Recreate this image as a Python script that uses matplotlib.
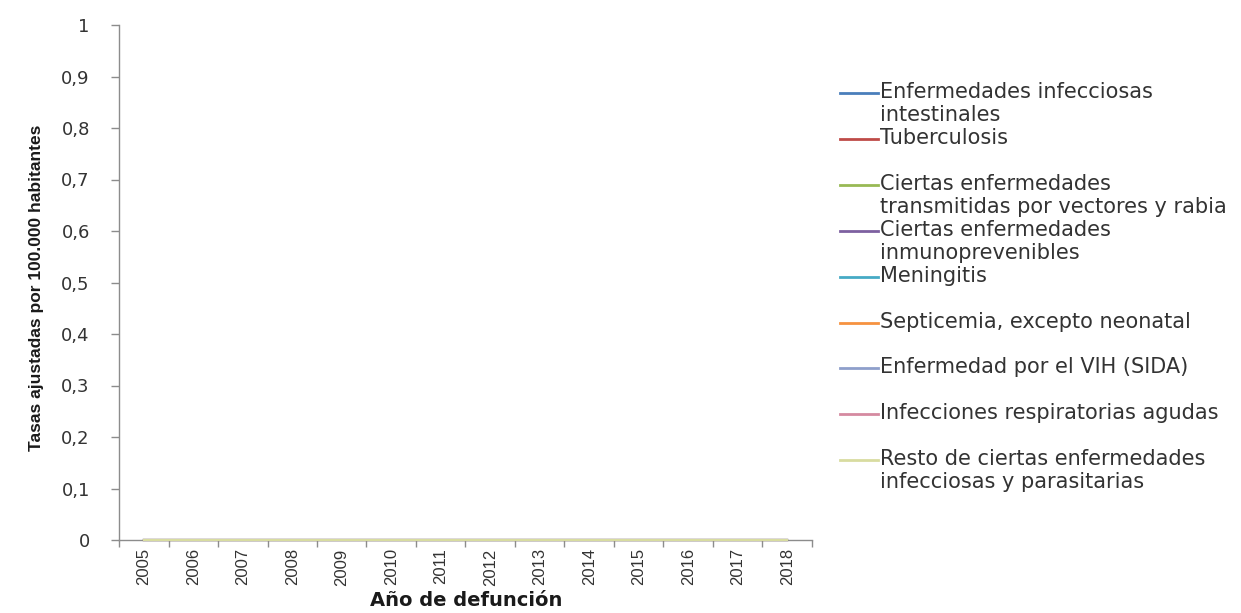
import matplotlib
matplotlib.use("Agg")
import numpy as np
import matplotlib.pyplot as plt
from matplotlib.lines import Line2D

# Años de defunción (eje x)
years = [2005, 2006, 2007, 2008, 2009, 2010, 2011, 2012, 2013, 2014, 2015, 2016, 2017, 2018]

# Tasas ajustadas por 100.000 habitantes (todas en cero en el gráfico)
intestinales = [0, 0, 0, 0, 0, 0, 0, 0, 0, 0, 0, 0, 0, 0]
tuberculosis = [0, 0, 0, 0, 0, 0, 0, 0, 0, 0, 0, 0, 0, 0]
vectores = [0, 0, 0, 0, 0, 0, 0, 0, 0, 0, 0, 0, 0, 0]
inmunoprevenibles = [0, 0, 0, 0, 0, 0, 0, 0, 0, 0, 0, 0, 0, 0]
meningitis = [0, 0, 0, 0, 0, 0, 0, 0, 0, 0, 0, 0, 0, 0]
septicemia = [0, 0, 0, 0, 0, 0, 0, 0, 0, 0, 0, 0, 0, 0]
vih = [0, 0, 0, 0, 0, 0, 0, 0, 0, 0, 0, 0, 0, 0]
respiratorias = [0, 0, 0, 0, 0, 0, 0, 0, 0, 0, 0, 0, 0, 0]
resto = [0, 0, 0, 0, 0, 0, 0, 0, 0, 0, 0, 0, 0, 0]

series_labels = [
    "Enfermedades infecciosas\nintestinales",
    "Tuberculosis",
    "Ciertas enfermedades\ntransmitidas por vectores y rabia",
    "Ciertas enfermedades\ninmunoprevenibles",
    "Meningitis",
    "Septicemia, excepto neonatal",
    "Enfermedad por el VIH (SIDA)",
    "Infecciones respiratorias agudas",
    "Resto de ciertas enfermedades\ninfecciosas y parasitarias",
]
series_values = [intestinales, tuberculosis, vectores, inmunoprevenibles,
                 meningitis, septicemia, vih, respiratorias, resto]
colors = ['#4a7ebb', '#be4b48', '#98b954', '#7d60a0', '#46aac5',
          '#f69240', '#8e9fcb', '#d58aa0', '#d8dca0']

yticks = [0, 0.1, 0.2, 0.3, 0.4, 0.5, 0.6, 0.7, 0.8, 0.9, 1]

W, H = 1241, 613
fig = plt.figure(figsize=(W / 100, H / 100), dpi=100)
ax = fig.add_axes([119 / W, 1 - 540 / H, (812 - 119) / W, (540 - 25) / H])

xpos = np.arange(len(years))
for vals, col in zip(series_values, colors):
    ax.plot(xpos, vals, color=col, lw=1.5, clip_on=False, zorder=3)

ax.set_xlim(-0.5, len(years) - 0.5)
ax.set_ylim(0, 1)

for s in ['top', 'right']:
    ax.spines[s].set_visible(False)
for s in ['left', 'bottom']:
    ax.spines[s].set_color('#8c8c8c')
    ax.spines[s].set_linewidth(1.0)

txt_col = '#333333'
ax.set_yticks(yticks)
ax.set_yticklabels([('%g' % v).replace('.', ',') for v in yticks],
                   fontsize=13, family='DejaVu Sans', color=txt_col)
ax.tick_params(axis='y', length=6, width=1, color='#8c8c8c', pad=15)

ax.set_xticks(np.arange(-0.5, len(years)), minor=False)
ax.set_xticklabels([])
ax.set_xticks(xpos, minor=True)
ax.set_xticklabels([str(y) for y in years], minor=True, rotation=90,
                   fontsize=12, family='Liberation Sans', color=txt_col)
ax.tick_params(axis='x', which='major', length=5, width=1, color='#8c8c8c')
ax.tick_params(axis='x', which='minor', length=0, pad=6)

ax.set_xlabel("Año de defunción", fontsize=14, fontweight='bold',
              family='DejaVu Sans', color='#1a1a1a')
ax.xaxis.set_label_coords((466 - 119) / 693, (540 - 591) / 515)
ax.set_ylabel("Tasas ajustadas por 100.000 habitantes", fontsize=12.5,
              fontweight='bold', family='Liberation Sans', color='#1a1a1a')
ax.yaxis.set_label_coords((44 - 119) / 693, 0.49)

# leyenda dibujada a mano para imitar el estilo de Excel
leg_top = 93
slot = 45.9
for i, (lab, col) in enumerate(zip(series_labels, colors)):
    yc = leg_top + slot * i
    fig.add_artist(Line2D([840 / W, 878 / W], [1 - yc / H, 1 - yc / H],
                          color=col, lw=2, transform=fig.transFigure))
    fig.text(880 / W, 1 - (yc - 11) / H, lab, fontsize=15,
             family='DejaVu Sans', color=txt_col, va='top', ha='left',
             linespacing=1.2)

fig.savefig("out.png", dpi=100, facecolor='white')
